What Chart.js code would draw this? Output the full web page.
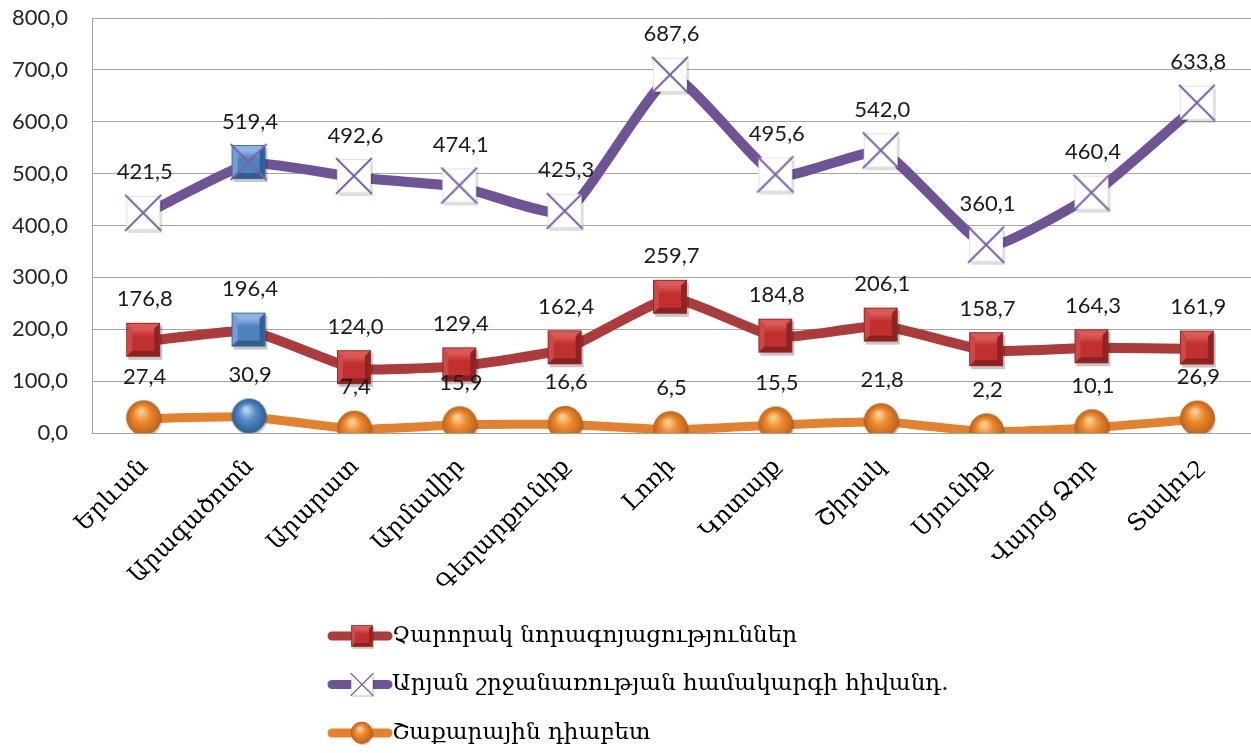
<!DOCTYPE html>
<html>
<head>
<meta charset="utf-8">
<script src="https://cdn.jsdelivr.net/npm/chart.js@4/dist/chart.umd.min.js"></script>
<style>
html,body{margin:0;padding:0;background:#fff;}
#c{display:block;}
</style>
</head>
<body>
<canvas id="c" width="1251" height="753"></canvas>
<script>
// ---- data ----
const categories = ["Երևան","Արագածոտն","Արարատ","Արմավիր","Գեղարքունիք","Լոռի","Կոտայք","Շիրակ","Սյունիք","Վայոց Ձոր","Տավուշ"];
const seriesNames = ["Չարորակ նորագոյացություններ","Արյան շրջանառության համակարգի հիվանդ.","Շաքարային դիաբետ"];
const tumors = [176.8,196.4,124.0,129.4,162.4,259.7,184.8,206.1,158.7,164.3,161.9];
const circulatory = [421.5,519.4,492.6,474.1,425.3,687.6,495.6,542.0,360.1,460.4,633.8];
const diabetes = [27.4,30.9,7.4,15.9,16.6,6.5,15.5,21.8,2.2,10.1,26.9];
const yMin = 0, yMax = 800, yStep = 100;
const highlightIndex = 1;

const fmt = v => v.toFixed(1).replace('.', ',');

// ---- marker images ----
function mk(w,h){const c=document.createElement('canvas');c.width=w;c.height=h;return [c,c.getContext('2d')];}
function squareMarker(face, light, dark, border){
  const S=38, s=34, o=(S-s)/2;
  const [c,g]=mk(S+3,S+3);
  g.fillStyle='rgba(0,0,0,0.22)';g.fillRect(o+2,o+3,s,s);
  g.fillStyle=border;g.fillRect(o,o,s,s);
  const b=5, x0=o+1,y0=o+1,x1=o+s-1,y1=o+s-1;
  g.fillStyle=light;g.beginPath();g.moveTo(x0,y0);g.lineTo(x1,y0);g.lineTo(x1-b,y0+b);g.lineTo(x0+b,y0+b);g.closePath();g.fill();
  g.fillStyle=light;g.globalAlpha=0.7;g.beginPath();g.moveTo(x0,y0);g.lineTo(x0+b,y0+b);g.lineTo(x0+b,y1-b);g.lineTo(x0,y1);g.closePath();g.fill();g.globalAlpha=1;
  g.fillStyle=dark;g.beginPath();g.moveTo(x0,y1);g.lineTo(x0+b,y1-b);g.lineTo(x1-b,y1-b);g.lineTo(x1,y1);g.closePath();g.fill();
  g.fillStyle=dark;g.globalAlpha=0.8;g.beginPath();g.moveTo(x1,y0);g.lineTo(x1,y1);g.lineTo(x1-b,y1-b);g.lineTo(x1-b,y0+b);g.closePath();g.fill();g.globalAlpha=1;
  const gr=g.createLinearGradient(0,y0+b,0,y1-b);gr.addColorStop(0,light);gr.addColorStop(0.35,face);gr.addColorStop(1,face);
  g.fillStyle=gr;g.fillRect(x0+b,y0+b,x1-x0-2*b,y1-y0-2*b);
  return c;
}
function addX(c,color){
  const g=c.getContext('2d');const S=38;
  g.strokeStyle=color;g.lineWidth=2;g.beginPath();
  g.moveTo(1,1);g.lineTo(S-1,S-1);g.moveTo(S-1,1);g.lineTo(1,S-1);g.stroke();
  return c;
}
function xMarker(color){
  const S=38,s=34,o=(S-s)/2;
  const [c,g]=mk(S+3,S+3);
  g.fillStyle='rgba(0,0,0,0.13)';g.fillRect(o+2,o+3,s,s);
  g.fillStyle='#fdfdfd';g.fillRect(o,o,s,s);
  g.strokeStyle='#e4e4e4';g.lineWidth=1;g.strokeRect(o+0.5,o+0.5,s-1,s-1);
  return addX(c,color);
}
function circleMarker(hi, mid, dark, border){
  const R=17,S=2*R+5;
  const [c,g]=mk(S,S);const cx=R+1.5,cy=R+1.5;
  g.fillStyle='rgba(0,0,0,0.18)';g.beginPath();g.arc(cx+1.5,cy+2.5,R,0,Math.PI*2);g.fill();
  const gr=g.createRadialGradient(cx-3,cy-7,1,cx,cy,R);
  gr.addColorStop(0,hi);gr.addColorStop(0.45,mid);gr.addColorStop(1,dark);
  g.fillStyle=gr;g.beginPath();g.arc(cx,cy,R,0,Math.PI*2);g.fill();
  g.strokeStyle=border;g.lineWidth=1;g.stroke();
  return c;
}
const redSq = squareMarker('#C0302F','#DB5A58','#8E2020','#9A2A2B');
const blueSq = squareMarker('#4F81BD','#8FB4E3','#2F5D93','#3A6BA5');
const purpleX = xMarker('#7B62A8');
const blueX = addX(squareMarker('#4F81BD','#8FB4E3','#2F5D93','#3A6BA5'),'#7B62A8');
const orangeC = circleMarker('#FFD39A','#EE8A2E','#C0631A','#B8641F');
const blueC = circleMarker('#BFD8F7','#5B8CC9','#2F5D93','#3A6BA5');

const pick = (normal, hl) => ctx => ctx.dataIndex === highlightIndex ? hl : normal;

const colors = ['#AC3B3B','#6E5494','#E3812E'];
const markers = [[redSq,blueSq],[purpleX,blueX],[orangeC,blueC]];

const dataLabelPlugin = {
  id:'dataLabels',
  afterDatasetsDraw(chart){
    const g=chart.ctx;g.save();
    g.font='22px Lato';g.fillStyle='#1a1a1a';g.textAlign='center';g.textBaseline='middle';
    chart.data.datasets.forEach((ds,i)=>{
      chart.getDatasetMeta(i).data.forEach((pt,j)=>{
        g.fillText(fmt(ds.data[j]), pt.x, pt.y-42);
      });
    });
    g.restore();
  }
};
const legendPlugin = {
  id:'customLegend',
  afterDraw(chart){
    const g=chart.ctx;g.save();
    const x0=332,x1=388,cx=362;
    chart.data.datasets.forEach((ds,i)=>{
      const y=636+i*48.5;
      g.strokeStyle=ds.borderColor;g.lineWidth=9;g.lineCap='round';
      g.beginPath();g.moveTo(x0,y);g.lineTo(x1,y);g.stroke();
      const im=markers[i][0];const sz=24;
      g.drawImage(im,cx-sz/2,y-sz/2,sz*im.width/38,sz*im.height/38);
      g.font='23px "DejaVu Serif"';g.fillStyle='#000';g.textAlign='left';g.textBaseline='middle';
      g.fillText(ds.label, 392, y);
    });
    g.restore();
  }
};

new Chart(document.getElementById('c'),{
  type:'line',
  data:{
    labels:categories,
    datasets:[
      {label:seriesNames[0],data:tumors,borderColor:colors[0],borderWidth:10,tension:0.15,pointStyle:pick(redSq,blueSq)},
      {label:seriesNames[1],data:circulatory,borderColor:colors[1],borderWidth:10,tension:0.15,pointStyle:pick(purpleX,blueX)},
      {label:seriesNames[2],data:diabetes,borderColor:colors[2],borderWidth:9,tension:0.15,pointStyle:pick(orangeC,blueC)}
    ]
  },
  options:{
    responsive:false,animation:false,devicePixelRatio:1,
    events:[],
    layout:{autoPadding:false,padding:{top:18,left:0,right:0,bottom:0}},
    plugins:{legend:{display:false},tooltip:{enabled:false}},
    scales:{
      x:{
        offset:true,
        grid:{display:false},
        border:{display:true,color:'#a0a0a0',width:1},
        ticks:{autoSkip:false,maxRotation:45,minRotation:45,padding:12,color:'#000',font:{family:'DejaVu Serif',size:24}},
        afterFit(s){s.height=320;s.paddingLeft=0;s.paddingRight=0;s.paddingTop=0;s.paddingBottom=0;}
      },
      y:{
        min:yMin,max:yMax,
        grid:{color:'#a6a6a6',drawTicks:false,lineWidth:1},
        border:{display:true,color:'#a0a0a0',width:1},
        ticks:{stepSize:yStep,padding:24,color:'#262626',font:{family:'Lato',size:22},callback:v=>fmt(v)},
        afterFit(s){s.width=92;s.paddingTop=0;s.paddingBottom=0;s.paddingLeft=0;s.paddingRight=0;}
      }
    }
  },
  plugins:[dataLabelPlugin,legendPlugin]
});
</script>
</body>
</html>
